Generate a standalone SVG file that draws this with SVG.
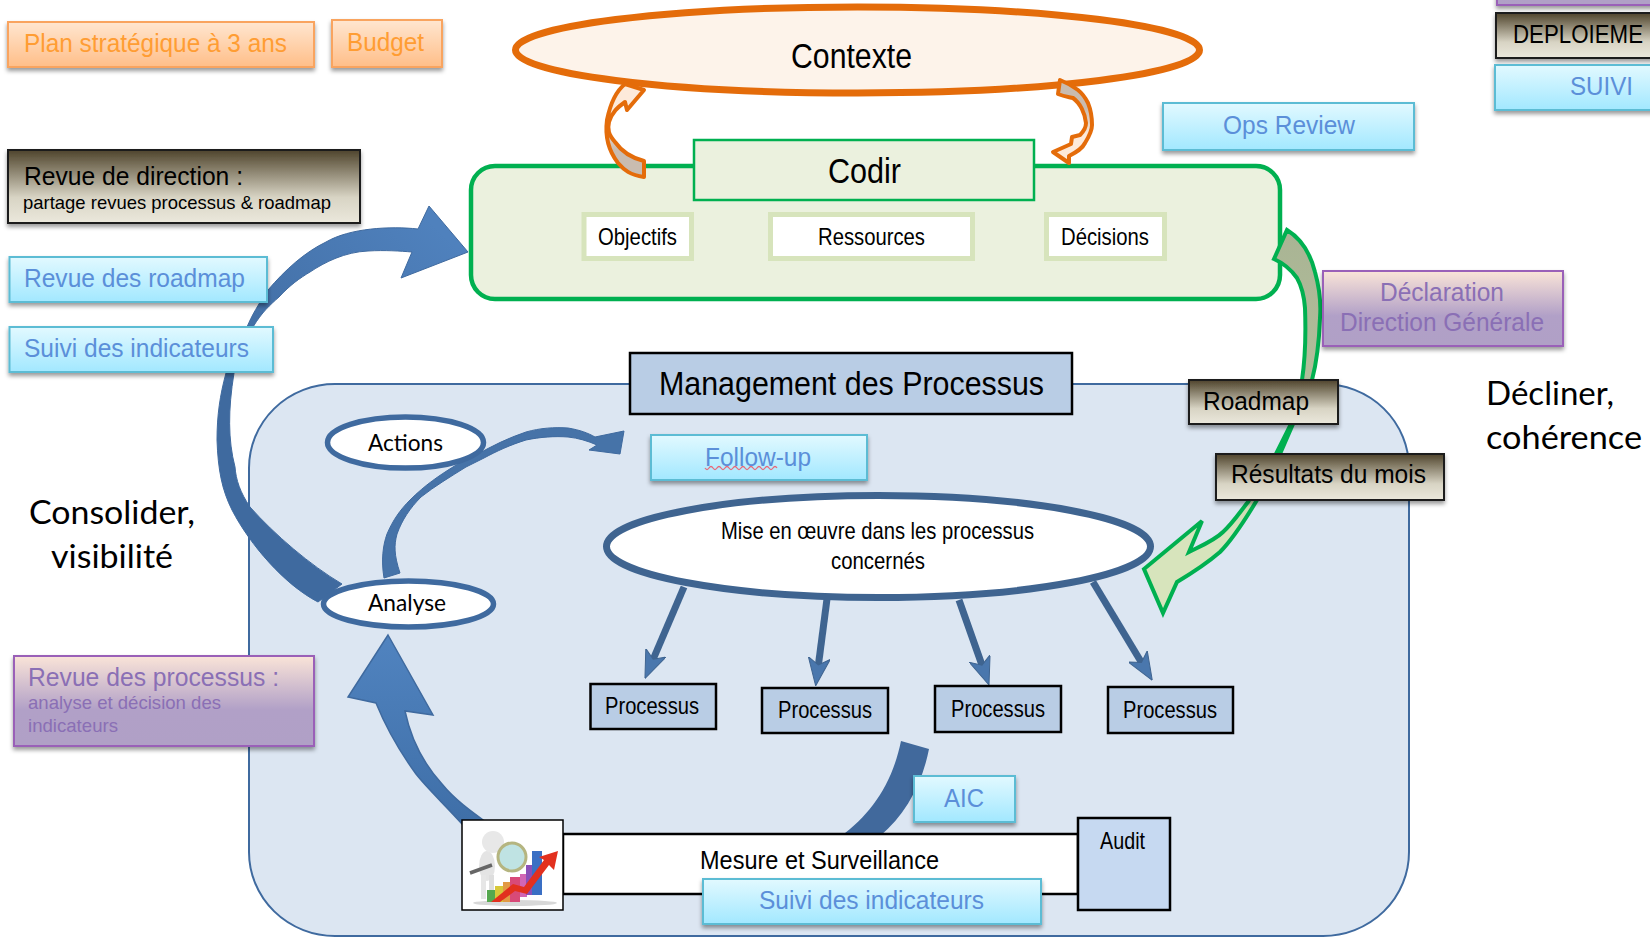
<svg xmlns="http://www.w3.org/2000/svg" width="1650" height="937" viewBox="0 0 1650 937">
<defs>
<linearGradient id="gOrange" x1="0" y1="0" x2="0" y2="1"><stop offset="0" stop-color="#ffe6d0"/><stop offset="1" stop-color="#ffbe88"/></linearGradient>
<linearGradient id="gBlue" x1="0" y1="0" x2="0" y2="1"><stop offset="0" stop-color="#e2f9ff"/><stop offset="1" stop-color="#a2e8ff"/></linearGradient>
<linearGradient id="gDark" x1="0" y1="0" x2="0" y2="1"><stop offset="0" stop-color="#4f442c"/><stop offset="0.65" stop-color="#d8d4c4"/><stop offset="1" stop-color="#ebe8dc"/></linearGradient>
<linearGradient id="gPurple" x1="0" y1="0" x2="0" y2="1"><stop offset="0" stop-color="#fae4d8"/><stop offset="0.6" stop-color="#b1a0c7"/><stop offset="1" stop-color="#b0a0c6"/></linearGradient>
<linearGradient id="gBig" gradientUnits="userSpaceOnUse" x1="440" y1="230" x2="260" y2="420"><stop offset="0" stop-color="#4f81bd"/><stop offset="1" stop-color="#3f6a9f"/></linearGradient>
<linearGradient id="gUp" gradientUnits="userSpaceOnUse" x1="0" y1="640" x2="0" y2="820"><stop offset="0" stop-color="#5083bf"/><stop offset="1" stop-color="#3f6fa8"/></linearGradient>
<linearGradient id="gOr1" gradientUnits="userSpaceOnUse" x1="0" y1="85" x2="0" y2="178"><stop offset="0.4" stop-color="#fdeada"/><stop offset="0.7" stop-color="#c9bcb0"/></linearGradient>
<linearGradient id="gOr2" gradientUnits="userSpaceOnUse" x1="0" y1="80" x2="0" y2="163"><stop offset="0.35" stop-color="#c9bcb0"/><stop offset="0.65" stop-color="#fdeada"/></linearGradient>
<linearGradient id="gGreen" gradientUnits="userSpaceOnUse" x1="0" y1="230" x2="0" y2="610"><stop offset="0" stop-color="#a9b494"/><stop offset="0.5" stop-color="#b4c09c"/><stop offset="0.8" stop-color="#d7e4bc"/></linearGradient>
<filter id="sh" x="-10%" y="-20%" width="120%" height="150%"><feDropShadow dx="0" dy="3" stdDeviation="2.2" flood-color="#000" flood-opacity="0.4"/></filter>
<marker id="ah" markerUnits="userSpaceOnUse" markerWidth="28" markerHeight="22" viewBox="0 0 28 22" refX="10" refY="11" orient="auto"><path d="M0,0 L28,11 L0,22 L7,11Z" fill="#4a77ad" stroke="#3f6490" stroke-width="1"/></marker>
</defs>
<style>
text{font-family:"Liberation Sans",Arial,sans-serif;fill:#000}
.cal{font-family:Lato,"Open Sans",sans-serif}
.blu{fill:#5b8fd9}.org{fill:#ff9d33}.pur{fill:#8a6fb5}
.s26{font-size:26px}.s24{font-size:24px}.s35{font-size:35px}
.bBlue{fill:url(#gBlue);stroke:#5cbcd4;stroke-width:2;filter:url(#sh)}
.bOrange{fill:url(#gOrange);stroke:#f9a45e;stroke-width:2;filter:url(#sh)}
.bDark{fill:url(#gDark);stroke:#1c1c1c;stroke-width:2;filter:url(#sh)}
.bPurple{fill:url(#gPurple);stroke:#9a60b8;stroke-width:2;filter:url(#sh)}
.bProc{fill:#b9cde5;stroke:#000;stroke-width:2.5}
.bIn{fill:#fff;stroke:#d7e4bc;stroke-width:5}
.eBlue{fill:#fff;stroke:#3f6a9f}
.orArrow{stroke:#e46c0a;stroke-width:4;stroke-linejoin:round}
.pl{stroke:#3f6490;stroke-width:7;fill:none;marker-end:url(#ah)}
</style>

<g id="management-container"><rect x="249" y="384" width="1160" height="552" rx="86" ry="84" fill="#dce6f2" stroke="#3f6a9f" stroke-width="2"/></g>
<g id="codir-group"><rect x="471" y="166" width="809" height="133" rx="24" ry="24" fill="#ebf1de" stroke="#00b050" stroke-width="4.5"/></g>
<g id="contexte"><ellipse cx="857.5" cy="50" rx="342" ry="43" fill="#fdf3ea" stroke="#e46c0a" stroke-width="7"/><text class="s35" x="791" y="68" textLength="121" lengthAdjust="spacingAndGlyphs">Contexte</text></g>

<g id="connectors">
<path id="c-consolider" d="M468,252 L401,278 L412,252 C400,251 385,250 368,251 C345,252 325,262 310,272 C300,278 290,285 279,297 C270,305 262,312 253,327 C247,340 240,355 234,373 C228,410 228,440 235,467 C236,480 240,492 250,507 C275,535 310,565 342,584 L318,602 C285,585 250,545 232,510 C222,490 218,470 217,440 C217,415 220,395 226,373 C232,360 238,345 247,327 C252,315 258,305 268,290 C285,270 305,252 326,242 C350,228 390,226 418,229 L429,206Z" fill="url(#gBig)" stroke="#3f6a9f" stroke-width="1"/>
<path id="c-followup" d="M400,573 L384,578 C381,560 383,545 387,534 C393,520 400,510 410,500 C425,485 440,475 453,467 C462,461 468,458 476,455 C492,446 508,438 526,432 C540,428 555,427 568,428 C580,430 588,433 595,437 L624,431 L620,454 L589,450 L597,445 C588,441 578,438 568,437 C555,436 540,437 526,440 C510,445 497,451 484,458 C478,461 472,464 466,467 C450,477 435,486 421,497 C410,508 402,520 397,534 C394,545 394,555 400,573Z" fill="#4673a8" stroke="#3f6a9f" stroke-width="1"/>
<path id="c-up" d="M388,635 L433,715 L405,711 C410,735 422,762 442,784 C455,800 472,812 490,825 L463,825 C445,805 427,788 416,774 C400,752 385,725 376,703 L348,697Z" fill="url(#gUp)" stroke="#3f6a9f" stroke-width="1.5"/>
<path id="c-aic" d="M901,741 L929,749 C922,785 905,815 880,836 L841,836 C870,815 892,785 901,741Z" fill="#41699c"/>
<line class="pl" x1="684" y1="587" x2="652" y2="662"/>
<line class="pl" x1="827" y1="599" x2="818" y2="668"/>
<line class="pl" x1="959" y1="600" x2="983" y2="668"/>
<line class="pl" x1="1093" y1="582" x2="1143" y2="665"/>
<path id="c-or1" class="orArrow" d="M644,90 L625,84 C615,92 610,105 607,120 C605,135 608,150 618,163 C624,170 630,175 644,177 L644,161 C632,158 622,152 615,142 C609,135 607,130 609,122 C612,112 618,107 625,102 L627,110Z" fill="url(#gOr1)"/>
<path id="c-or2" class="orArrow" d="M1060,80 L1058,94 C1065,97 1070,97 1073,98 C1080,103 1085,113 1086,123 C1086,128 1083,132 1080,135 L1072,137 L1071,144 L1053,152 L1069,163 L1069,156 C1077,152 1082,149 1085,143 C1090,135 1092,130 1092,125 C1092,115 1090,108 1088,103 C1085,97 1083,94 1078,90 C1070,84 1065,82 1060,80Z" fill="url(#gOr2)"/>
<path id="c-green" d="M1287,230 C1300,238 1310,252 1315,272 C1320,290 1321,305 1320,318 C1319,345 1316,365 1312,380 C1306,400 1300,412 1293,424 L1280,454 C1272,470 1265,485 1257,500 C1245,520 1232,540 1220,552 C1205,565 1192,573 1177,582 L1163,613 L1144,569 L1202,521 L1189,552 C1203,545 1215,540 1223,532 C1233,523 1240,512 1248,502 L1276,454 L1291,424 C1297,410 1300,395 1302,380 C1305,360 1306,335 1305,308 C1304,295 1301,285 1297,278 C1290,268 1283,263 1274,259Z" fill="url(#gGreen)" stroke="#00b050" stroke-width="4" stroke-linejoin="miter"/>
</g>

<g id="plan"><rect class="bOrange" x="8" y="22" width="306" height="45"/><text class="s26 org" x="24" y="52" textLength="263" lengthAdjust="spacingAndGlyphs">Plan stratégique à 3 ans</text></g>
<g id="budget"><rect class="bOrange" x="332" y="20" width="110" height="47"/><text class="s26 org" x="347" y="51" textLength="77" lengthAdjust="spacingAndGlyphs">Budget</text></g>
<g id="revue-direction"><rect class="bDark" x="8" y="150" width="352" height="73"/><text class="s26" x="24" y="185" textLength="219" lengthAdjust="spacingAndGlyphs">Revue de direction :</text><text font-size="19" x="23" y="209" textLength="308" lengthAdjust="spacingAndGlyphs">partage revues processus &amp; roadmap</text></g>
<g id="revue-roadmap"><rect class="bBlue" x="9.500" y="257" width="257.500" height="45"/><text class="s26 blu" x="24" y="287" textLength="221" lengthAdjust="spacingAndGlyphs">Revue des roadmap</text></g>
<g id="suivi-indicateurs-top"><rect class="bBlue" x="9.500" y="327" width="263.500" height="45"/><text class="s26 blu" x="24" y="357" textLength="225" lengthAdjust="spacingAndGlyphs">Suivi des indicateurs</text></g>
<g id="revue-processus"><rect class="bPurple" x="14" y="656" width="300" height="90"/><text class="s26 pur" x="28" y="686" textLength="251" lengthAdjust="spacingAndGlyphs">Revue des processus :</text><text class="pur" font-size="19" x="28" y="709" textLength="193" lengthAdjust="spacingAndGlyphs">analyse et décision des</text><text class="pur" font-size="19" x="28" y="732" textLength="90" lengthAdjust="spacingAndGlyphs">indicateurs</text></g>

<g id="consolider"><text class="cal" font-size="33" x="29" y="524" textLength="166" lengthAdjust="spacingAndGlyphs">Consolider,</text><text class="cal" font-size="33" x="51" y="568" textLength="122" lengthAdjust="spacingAndGlyphs">visibilité</text></g>
<g id="decliner"><text class="cal" font-size="33" x="1486" y="405" textLength="128" lengthAdjust="spacingAndGlyphs">Décliner,</text><text class="cal" font-size="33" x="1486" y="449" textLength="156" lengthAdjust="spacingAndGlyphs">cohérence</text></g>

<g id="codir"><rect x="694" y="140" width="340" height="60" fill="#ebf1de" stroke="#00b050" stroke-width="2.500"/><text class="s35" x="828" y="183" textLength="73" lengthAdjust="spacingAndGlyphs">Codir</text></g>
<g id="objectifs"><rect class="bIn" x="584" y="214.500" width="107.500" height="44"/><text class="s24" x="598" y="245" textLength="79" lengthAdjust="spacingAndGlyphs">Objectifs</text></g>
<g id="ressources"><rect class="bIn" x="770.500" y="214.500" width="202" height="44"/><text class="s24" x="818" y="245" textLength="107" lengthAdjust="spacingAndGlyphs">Ressources</text></g>
<g id="decisions"><rect class="bIn" x="1046.500" y="214.500" width="118" height="44"/><text class="s24" x="1061" y="245" textLength="88" lengthAdjust="spacingAndGlyphs">Décisions</text></g>

<g id="ops-review"><rect class="bBlue" x="1163" y="103" width="251" height="47"/><text class="s26 blu" x="1223" y="134" textLength="132" lengthAdjust="spacingAndGlyphs">Ops Review</text></g>
<g id="top-purple"><rect class="bPurple" x="1497" y="-20" width="200" height="25"/></g>
<g id="deploiement"><rect class="bDark" x="1496" y="13" width="200" height="45"/><text class="s26" x="1513" y="43" textLength="130" lengthAdjust="spacingAndGlyphs">DEPLOIEME</text></g>
<g id="suivi"><rect class="bBlue" x="1495" y="65" width="200" height="45"/><text class="s26 blu" x="1570" y="95" textLength="63" lengthAdjust="spacingAndGlyphs">SUIVI</text></g>
<g id="declaration"><rect class="bPurple" x="1323" y="271" width="240" height="75"/><text class="s26 pur" x="1380" y="301" textLength="124" lengthAdjust="spacingAndGlyphs">Déclaration</text><text class="s26 pur" x="1340" y="331" textLength="204" lengthAdjust="spacingAndGlyphs">Direction Générale</text></g>

<g id="management-title"><rect class="bProc" x="630" y="353" width="442" height="61"/><text font-size="33" x="659" y="395" textLength="385" lengthAdjust="spacingAndGlyphs">Management des Processus</text></g>
<g id="roadmap"><rect class="bDark" x="1189" y="380" width="149" height="44"/><text class="s26" x="1203" y="410" textLength="106" lengthAdjust="spacingAndGlyphs">Roadmap</text></g>
<g id="resultats"><rect class="bDark" x="1216" y="454" width="228" height="46"/><text class="s26" x="1231" y="483" textLength="195" lengthAdjust="spacingAndGlyphs">Résultats du mois</text></g>
<g id="actions"><ellipse class="eBlue" stroke-width="5.500" cx="405.500" cy="442.500" rx="78" ry="25.500"/><text class="cal" font-size="23" x="368" y="451" textLength="75" lengthAdjust="spacingAndGlyphs">Actions</text></g>
<g id="analyse"><ellipse class="eBlue" stroke-width="5.500" cx="408.500" cy="604" rx="85" ry="23"/><text class="cal" font-size="23" x="368" y="611" textLength="78" lengthAdjust="spacingAndGlyphs">Analyse</text></g>
<g id="follow-up"><rect class="bBlue" x="651" y="435" width="216" height="45"/><text class="s26 blu" x="705" y="466" textLength="106" lengthAdjust="spacingAndGlyphs">Follow-up</text><path d="M705,468 q2,3 4,0 t4,0 t4,0 t4,0 t4,0 t4,0 t4,0 t4,0 t4,0 t4,0 t4,0 t4,0 t4,0 t4,0 t4,0 t4,0 t4,0 t4,0" fill="none" stroke="#e8697a" stroke-width="1.300"/></g>
<g id="mise-en-oeuvre"><ellipse cx="878.500" cy="546.500" rx="272" ry="51" fill="#fff" stroke="#3f6490" stroke-width="7"/><text class="s24" x="721" y="539" textLength="313" lengthAdjust="spacingAndGlyphs">Mise en œuvre dans les processus</text><text class="s24" x="831" y="569" textLength="94" lengthAdjust="spacingAndGlyphs">concernés</text></g>
<g id="processus-1"><rect class="bProc" x="590.500" y="684" width="125.500" height="45"/><text class="s24" x="605" y="714" textLength="94" lengthAdjust="spacingAndGlyphs">Processus</text></g>
<g id="processus-2"><rect class="bProc" x="762" y="688" width="126" height="45"/><text class="s24" x="778" y="718" textLength="94" lengthAdjust="spacingAndGlyphs">Processus</text></g>
<g id="processus-3"><rect class="bProc" x="935" y="686" width="126" height="46"/><text class="s24" x="951" y="717" textLength="94" lengthAdjust="spacingAndGlyphs">Processus</text></g>
<g id="processus-4"><rect class="bProc" x="1108" y="687" width="125" height="46"/><text class="s24" x="1123" y="718" textLength="94" lengthAdjust="spacingAndGlyphs">Processus</text></g>
<g id="mesure"><rect x="563" y="834" width="515" height="60" fill="#fff" stroke="#000" stroke-width="2.500"/><text class="s26" x="700" y="869" textLength="239" lengthAdjust="spacingAndGlyphs">Mesure et Surveillance</text></g>
<g id="aic"><rect class="bBlue" x="914" y="776" width="101" height="46"/><text class="s26 blu" x="944" y="807" textLength="40" lengthAdjust="spacingAndGlyphs">AIC</text></g>
<g id="suivi-indicateurs-bottom"><rect class="bBlue" x="703" y="879" width="338" height="45"/><text class="s26 blu" x="759" y="909" textLength="225" lengthAdjust="spacingAndGlyphs">Suivi des indicateurs</text></g>
<g id="audit"><rect x="1078" y="818" width="92" height="92" fill="#c6d9f1" stroke="#000" stroke-width="2.500"/><text class="s24" x="1100" y="849" textLength="45" lengthAdjust="spacingAndGlyphs">Audit</text></g>
<g id="icon">
<rect x="462" y="820" width="101" height="90" fill="#fff" stroke="#000" stroke-width="1.500"/>
<ellipse cx="515" cy="903" rx="42" ry="3" fill="#d8d8d8"/>
<ellipse cx="487" cy="866" rx="8" ry="15" fill="#e4e4e4"/><rect x="481" y="875" width="5" height="24" fill="#e6e6e6"/><rect x="489" y="875" width="5" height="24" fill="#dedede"/>
<circle cx="493" cy="842" r="11" fill="#e8e8e8"/>
<line x1="470" y1="873" x2="492" y2="865" stroke="#666" stroke-width="3.500"/>
<rect x="487" y="890" width="8" height="12" fill="#55a84f"/><rect x="495" y="886" width="8" height="16" fill="#d8c83a"/><rect x="503" y="882" width="9" height="20" fill="#e29a45"/><rect x="510" y="877" width="10" height="25" fill="#d84a78"/><rect x="520" y="874" width="7" height="23" fill="#d266b4"/><rect x="526" y="865" width="8" height="30" fill="#8a4fb8"/><rect x="532" y="851" width="10" height="44" fill="#3a6fc4"/>
<circle cx="512" cy="857" r="14" fill="#b8e0e0" fill-opacity="0.9" stroke="#b5b580" stroke-width="3"/>
<path d="M491,902 L513,884 L524,887 L544,860 L539,857 L558,851 L554,870 L549,865 L527,894 L515,891 L500,902Z" fill="#e2301e"/>
</g>
</svg>
